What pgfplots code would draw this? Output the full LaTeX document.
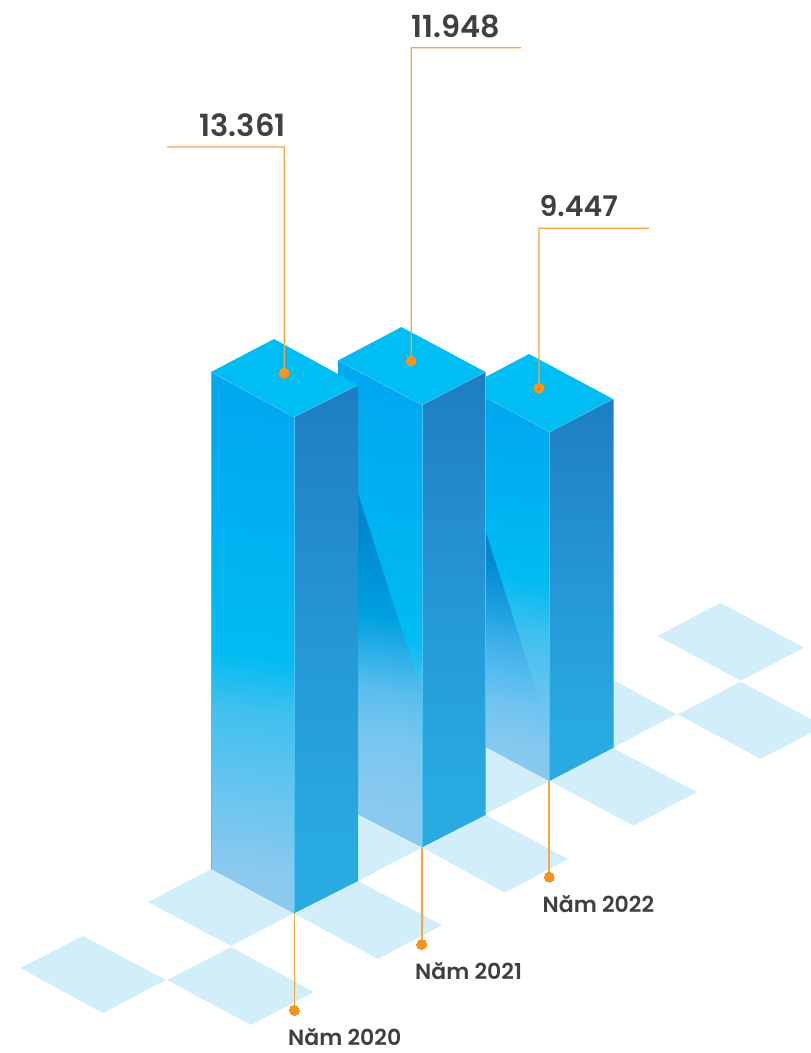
\documentclass[border=0pt]{standalone}
\usepackage{fontspec}
\usepackage{pgfplots}
\pgfplotsset{compat=1.18}
\setmainfont{Poppins}[BoldFont={Poppins SemiBold}]

\definecolor{tile}{HTML}{D3EEFB}
\definecolor{topface}{HTML}{00BDF3}
\definecolor{edge}{HTML}{4CC3F2}
\definecolor{lead}{HTML}{F7941D}
\definecolor{leadline}{HTML}{F9A444}
\definecolor{txt}{HTML}{404041}
\def\hx#1{\definecolor{x#1}{HTML}{#1}}
\hx{00A8F0}\hx{00BBF2}\hx{40C0EF}\hx{8CC9EF}\hx{29ABE2}\hx{2598D7}\hx{1F7DC2}
\hx{0085CF}\hx{00A0E0}\hx{30B0E8}\hx{5ABEEE}\hx{78C6F0}\hx{0088D0}\hx{1EA0E0}
\hx{3CB0E8}\hx{55BBEE}\hx{6EC3F0}\hx{85C8EF}

% left faces, one per bar: the light part starts at a different height
\pgfdeclareverticalshading{leftA}{100bp}{color(0bp)=(x8CC9EF); color(26.5bp)=(x8CC9EF); color(43bp)=(x40C0EF); color(48.8bp)=(x00BBF2); color(74bp)=(x00A8F0); color(100bp)=(x00A8F0)}
\pgfdeclareverticalshading{leftB}{100bp}{color(0bp)=(x8CC9EF); color(26.6bp)=(x8CC9EF); color(41.7bp)=(x40C0EF); color(46.9bp)=(x00BBF2); color(74bp)=(x00A8F0); color(100bp)=(x00A8F0)}
\pgfdeclareverticalshading{leftC}{100bp}{color(0bp)=(x8CC9EF); color(26.5bp)=(x8CC9EF); color(43.6bp)=(x40C0EF); color(51.2bp)=(x00BBF2); color(74bp)=(x00A8F0); color(100bp)=(x00A8F0)}
\pgfdeclareverticalshading{rightface}{100bp}{color(0bp)=(x29ABE2); color(30bp)=(x29ABE2); color(50bp)=(x2598D7); color(75bp)=(x1F7DC2); color(100bp)=(x1F7DC2)}
% shadows thrown on the next bar
\pgfdeclareverticalshading{shadowB}{100bp}{color(0bp)=(x8CC9EF); color(27.4bp)=(x8CC9EF); color(39.4bp)=(x78C6F0); color(46.5bp)=(x5ABEEE); color(52.1bp)=(x30B0E8); color(58.2bp)=(x00A0E0); color(72.6bp)=(x0085CF); color(100bp)=(x0085CF)}
\pgfdeclareverticalshading{shadowC}{100bp}{color(0bp)=(x8CC9EF); color(30.5bp)=(x85C8EF); color(39.1bp)=(x6EC3F0); color(45.7bp)=(x55BBEE); color(52.6bp)=(x3CB0E8); color(59.2bp)=(x1EA0E0); color(71.2bp)=(x0088D0); color(100bp)=(x0088D0)}

\tikzset{
    tilestyle/.style={fill=tile, draw=none},
    edgestyle/.style={color=edge, draw=edge, line width=0.5pt},
    edgefill/.style={fill=edge, draw=none},
    leadstyle/.style={fill=leadline, draw=none},
    yearstyle/.style={text=txt, font=\fontsize{22}{22}\selectfont\bfseries, inner sep=0pt},
}
\pgfplotsset{
    dotstyle/.style={only marks, color=lead, mark=*, mark size=5pt, mark options={fill=lead, draw=lead, line width=0pt}},
}

\begin{document}
\begin{tikzpicture}
    \path[use as bounding box] (0,0) rectangle (811pt,1053pt);
    \begin{axis}[
            hide axis,
            at={(0,0)}, anchor=south west,
            x=1pt, y=1pt,
            xmin=0, xmax=811,
            ymin=0, ymax=1053,
            y dir=reverse,
            clip=true,
        ]
        % ground tiles
        \addplot[tilestyle] coordinates {(20,968) (83,936) (166,980) (103,1013)} -- cycle;
        \addplot[tilestyle] coordinates {(167,980) (231,947) (314,992) (251,1025)} -- cycle;
        \addplot[tilestyle] coordinates {(148,902) (211,869) (294,913) (231,946)} -- cycle;
        \addplot[tilestyle] coordinates {(295,914) (358,881) (442,925) (378,959)} -- cycle;
        \addplot[tilestyle] coordinates {(275,836) (338,803) (421,848) (358,881)} -- cycle;
        \addplot[tilestyle] coordinates {(423,848) (485.7,815) (568,859) (505,892.7)} -- cycle;
        \addplot[tilestyle] coordinates {(402.5,769) (466.5,736) (549.5,781) (485.5,814)} -- cycle;
        \addplot[tilestyle] coordinates {(550,781) (613,748) (697,792) (633.3,825.7)} -- cycle;
        \addplot[tilestyle] coordinates {(530,702) (593,669) (676.7,714.3) (613.3,747.3)} -- cycle;
        \addplot[tilestyle] coordinates {(677.7,714.3) (740.7,681.7) (824,726) (760.7,759)} -- cycle;
        \addplot[tilestyle] coordinates {(657.3,636) (720.7,602.7) (804,647.7) (740.7,680.7)} -- cycle;

        % bar 2022
        \addplot[shading=leftC, shading angle=-11, draw=none] coordinates {(466.5,387) (549.5,432) (549.5,781) (466.5,736)} -- cycle;
        \addplot[shading=shadowC, shading angle=-12, draw=none] coordinates {(485.5,531) (549.5,731) (549.5,781) (485.5,747)} -- cycle;
        \addplot[shading=rightface, draw=none] coordinates {(549.5,432) (613,399) (613,748) (549.5,781)} -- cycle;
        \addplot[fill=topface, draw=none] coordinates {(466.5,387) (529,354) (613,399) (549.5,432)} -- cycle;
        \addplot[edgestyle] coordinates {(466.5,387) (549.5,432) (613,399)};
        \addplot[edgefill] coordinates {(549.2,432) (549.8,432) (549.8,781) (549.2,781)} -- cycle;
        \addplot[edgefill] coordinates {(612.7,399) (613.3,399) (613.3,748) (612.7,748)} -- cycle;

        % bar 2021
        \addplot[shading=leftB, shading angle=-9, draw=none] coordinates {(338,360.5) (422,405) (422,847.5) (338,804)} -- cycle;
        \addplot[shading=shadowB, shading angle=-9, draw=none] coordinates {(358,493) (422,693) (422,847.5) (358,814)} -- cycle;
        \addplot[shading=rightface, draw=none] coordinates {(422,405) (485.5,372) (485.5,815) (422,847.5)} -- cycle;
        \addplot[fill=topface, draw=none] coordinates {(338,360.5) (401.5,327) (485.5,372) (422,405)} -- cycle;
        \addplot[edgestyle] coordinates {(338,360.5) (422,405) (485.5,372)};
        \addplot[edgefill] coordinates {(421.7,405) (422.3,405) (422.3,847.5) (421.7,847.5)} -- cycle;
        \addplot[edgefill] coordinates {(485.2,372) (485.8,372) (485.8,815) (485.2,815)} -- cycle;

        % bar 2020
        \addplot[shading=leftA, shading angle=-8, draw=none] coordinates {(211,372) (294,417) (294,913.5) (211,869)} -- cycle;
        \addplot[shading=rightface, draw=none] coordinates {(294,417) (358,385) (358,881) (294,913.5)} -- cycle;
        \addplot[fill=topface, draw=none] coordinates {(211,372) (274,339) (358,385) (294,417)} -- cycle;
        \addplot[edgestyle] coordinates {(211,372) (294,417) (358,385)};
        \addplot[edgefill] coordinates {(293.7,417) (294.3,417) (294.3,913.5) (293.7,913.5)} -- cycle;
        \addplot[edgefill] coordinates {(210.7,372) (211.3,372) (211.3,869) (210.7,869)} -- cycle;

        % leader lines, as thin filled shapes
        \addplot[leadstyle] coordinates {(167,146.4) (284.9,146.4) (284.9,373) (283.7,373) (283.7,147.6) (167,147.6)} -- cycle;
        \addplot[leadstyle] coordinates {(521,47.1) (410.7,47.1) (410.7,361) (411.9,361) (411.9,48.3) (521,48.3)} -- cycle;
        \addplot[leadstyle] coordinates {(649.3,227.7) (538.4,227.7) (538.4,388) (539.6,388) (539.6,228.9) (649.3,228.9)} -- cycle;
        \addplot[leadstyle] coordinates {(293.6,913.5) (295,913.5) (295,1010) (293.6,1010)} -- cycle;
        \addplot[leadstyle] coordinates {(421,847.5) (422.5,847.5) (422.5,944) (421,944)} -- cycle;
        \addplot[leadstyle] coordinates {(548.2,781) (550.2,781) (550.2,877) (548.2,877)} -- cycle;
        \addplot[dotstyle] coordinates {(284.3,373) (411.3,361) (539,388) (294.3,1010.3) (421.7,944.3) (549.3,877)};

        % values and years
        \node[text=txt, font=\fontsize{30.6}{31}\selectfont\bfseries, inner sep=0pt, anchor=base east] at (axis cs:286,136.7) {13.361};
        \node[text=txt, font=\fontsize{30.4}{31}\selectfont\bfseries, inner sep=0pt, anchor=base west] at (axis cs:411,37.3) {11.948};
        \node[text=txt, font=\fontsize{28.4}{29}\selectfont\bfseries, inner sep=0pt, anchor=base west] at (axis cs:539.5,216.7) {9.447};
        \node[yearstyle, anchor=base west] at (axis cs:288,1045.7) {Năm 2020};
        \node[yearstyle, anchor=base west] at (axis cs:415,979.8) {Năm 2021};
        \node[yearstyle, anchor=base west] at (axis cs:542.5,912.7) {Năm 2022};
    \end{axis}
\end{tikzpicture}
\end{document}
